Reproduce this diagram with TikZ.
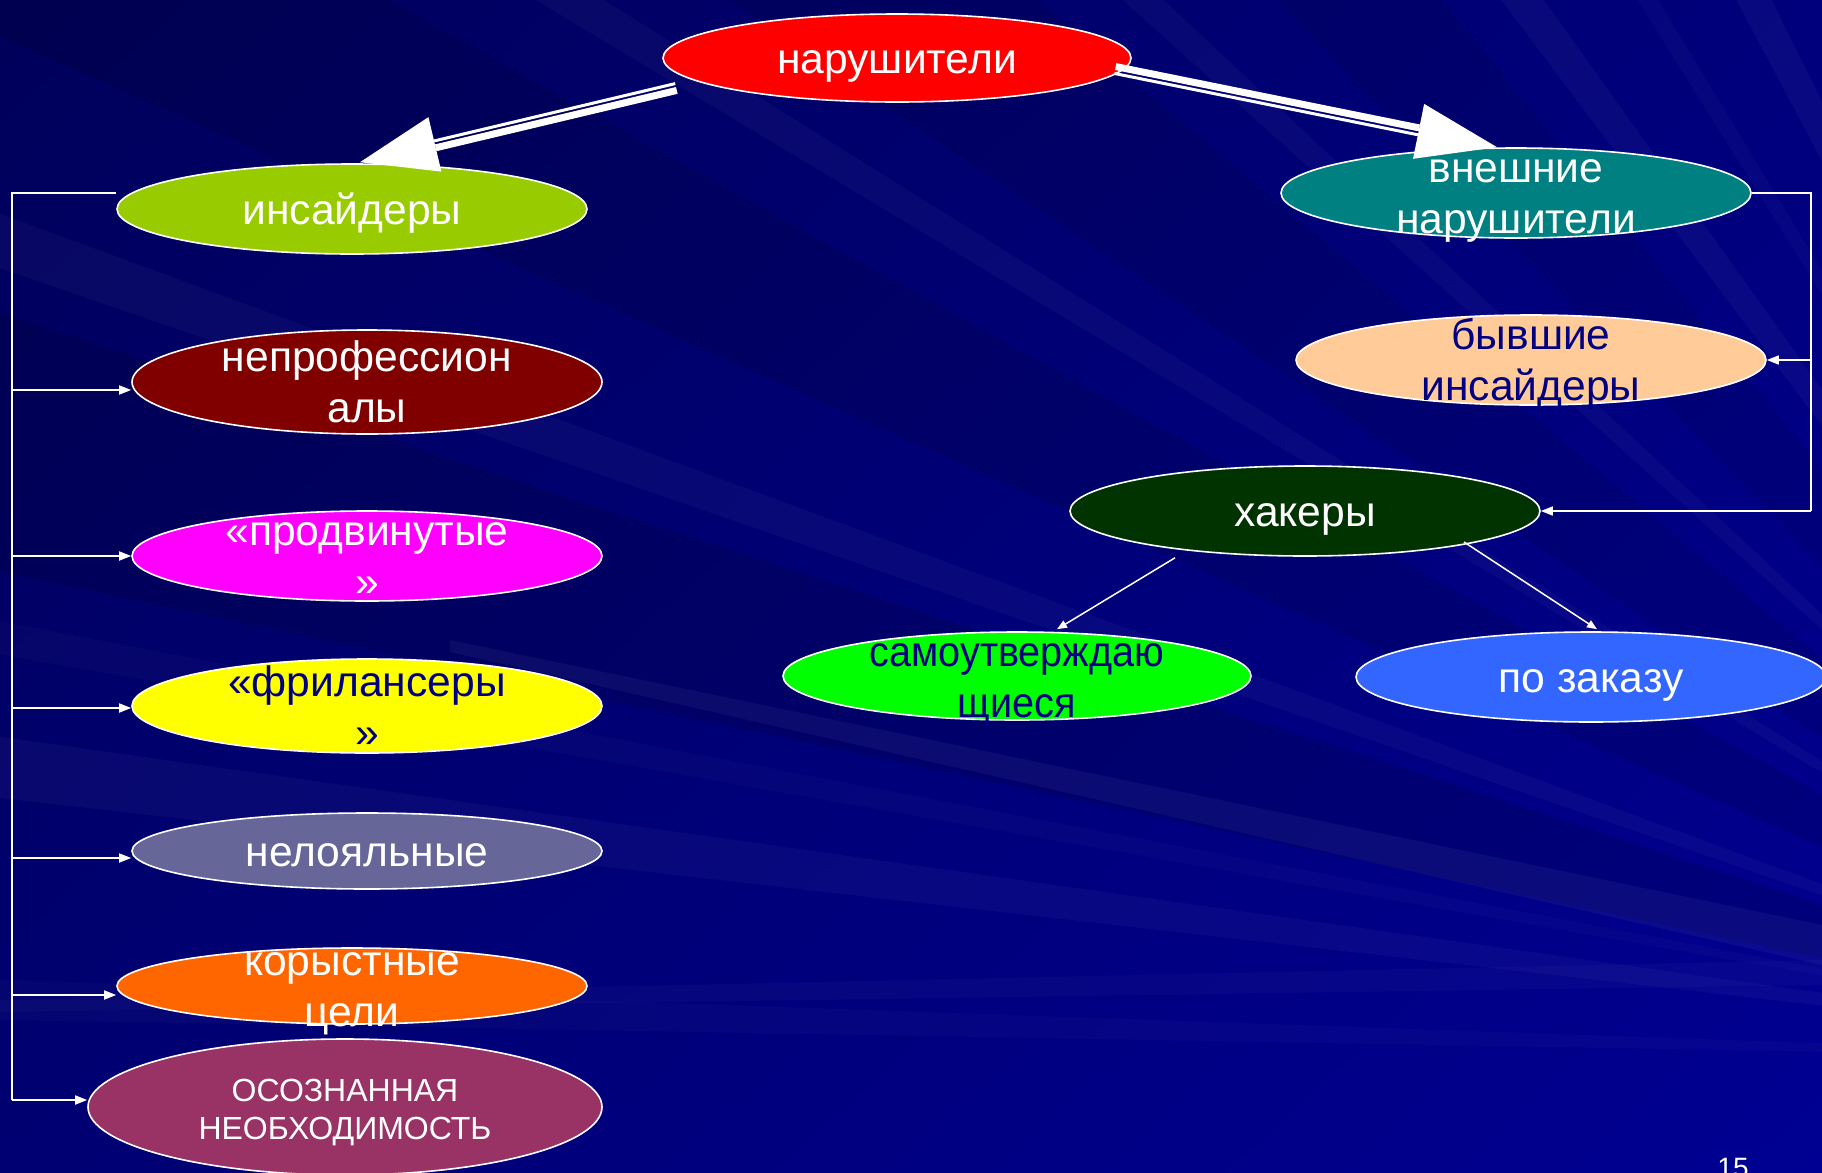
\documentclass[tikz,border=0pt]{standalone}
\usepackage{fontspec}
\setmainfont{Liberation Sans}
\usetikzlibrary{shapes.geometric,calc,arrows.meta,shadings}

\definecolor{navytext}{HTML}{000080}
\definecolor{cRed}{HTML}{FF0000}
\definecolor{cLime}{HTML}{99CC00}
\definecolor{cTeal}{HTML}{008080}
\definecolor{cMaroon}{HTML}{800000}
\definecolor{cPeach}{HTML}{FFCC99}
\definecolor{cForest}{HTML}{003300}
\definecolor{cMagenta}{HTML}{FF00FF}
\definecolor{cGreen}{HTML}{00FF00}
\definecolor{cBlue}{HTML}{3366FF}
\definecolor{cYellow}{HTML}{FFFF00}
\definecolor{cSlate}{HTML}{666699}
\definecolor{cOrange}{HTML}{FF6600}
\definecolor{cPlum}{HTML}{993366}
\definecolor{bgTL}{HTML}{00005A}
\definecolor{bgTR}{HTML}{00007C}
\definecolor{bgBL}{HTML}{000072}
\definecolor{bgBR}{HTML}{000092}

% struts that set the vertical placement of a label line
\newcommand\lblstrut{\rule[-4.5pt]{0pt}{24pt}}
\newcommand\capstrut{\rule[-3pt]{0pt}{17.4pt}}

\tikzset{
  oval/.style={ellipse, draw=white, line width=0.8pt, inner sep=0pt},
  txt/.style={align=center, inner sep=0pt, text=white,
              font=\fontsize{21.3}{25.5}\selectfont,
              execute at begin node=\lblstrut, execute at end node=\lblstrut},
  captxt/.style={txt, font=\fontsize{16}{19}\selectfont,
              execute at begin node=\capstrut, execute at end node=\capstrut},
  dark/.style={text=navytext},
  tree/.style={draw=white, line width=0.85pt},
  treearrow/.style={tree, -{Triangle[length=6pt,width=4.5pt]}},
  hackarrow/.style={draw=white, line width=0.75pt, -{Triangle[length=5pt,width=4pt]}},
  thinshaft/.style={draw=white, line width=1.5pt},
  thickshaft/.style={draw=white, line width=3.5pt},
}

\begin{document}
\begin{tikzpicture}[x=0.5pt,y=-0.5pt]
\useasboundingbox (0,0) rectangle (1822,1173);

% ---- background: navy with faint light rays ----
\begin{scope}
  \clip (0,0) rectangle (1822,1173);
  \shade[upper left=bgTL, upper right=bgTR, lower left=bgBL, lower right=bgBR]
    (0,0) rectangle (1822,1173);
  \coordinate (F) at (2300,1060);
  \foreach \a/\b/\o in {192/198/0.12, 204/209/0.10, 214/220/0.09, 226/231/0.08}
    \fill[black, opacity=\o] (F) -- ($(F)+(\a:4000)$) -- ($(F)+(\b:4000)$) -- cycle;
  \foreach \a/\b/\o in {181/182/0.02, 186.5/188/0.03, 190/190.8/0.02,
                        199/200.2/0.03, 211/212/0.03, 222/223/0.03, 233/234.5/0.035,
                        238/238.8/0.025, 242/243.5/0.035}
    \fill[white, opacity=\o] (F) -- ($(F)+(\a:4000)$) -- ($(F)+(\b:4000)$) -- cycle;
  \fill[white, opacity=0.045] (450,640) -- (1822,925) -- (1822,965) -- (450,652) -- cycle;
  \fill[white, opacity=0.025] (0,1000) -- (1822,960) -- (1822,985) -- (0,1012) -- cycle;
\end{scope}

% ---- ellipses ----
\node[oval, fill=cRed,     minimum width=234pt, minimum height=44pt] (nar)    at (897,58)   {};
\node[oval, fill=cLime,    minimum width=235pt, minimum height=45pt] (ins)    at (352,209)  {};
\node[oval, fill=cTeal,    minimum width=235pt, minimum height=45pt] (vn)     at (1516,193) {};
\node[oval, fill=cMaroon,  minimum width=235pt, minimum height=52pt] (neprof) at (367,382)  {};
\node[oval, fill=cPeach,   minimum width=235pt, minimum height=45pt] (byv)    at (1531,360) {};
\node[oval, fill=cForest,  minimum width=235pt, minimum height=45pt] (hak)    at (1305,511) {};
\node[oval, fill=cMagenta, minimum width=235pt, minimum height=45pt] (prod)   at (367,556)  {};
\node[oval, fill=cGreen,   minimum width=234pt, minimum height=44pt] (sam)    at (1017,676) {};
\node[oval, fill=cBlue,    minimum width=235pt, minimum height=45pt] (zak)    at (1591,677) {};
\node[oval, fill=cYellow,  minimum width=235pt, minimum height=47pt] (fril)   at (367,706)  {};
\node[oval, fill=cSlate,   minimum width=235pt, minimum height=38pt] (nelo)   at (367,851)  {};
\node[oval, fill=cOrange,  minimum width=235pt, minimum height=38pt] (kor)    at (352,986)  {};
\node[oval, fill=cPlum,    minimum width=257pt, minimum height=68pt] (osn)    at (345,1107) {};

% ---- left tree: insiders ----
\coordinate (lt-top) at (12,193);
\coordinate (neprof-in) at ($(neprof.west)+(0,8)$);
\coordinate (prod-in)   at (prod.west);
\coordinate (fril-in)   at ($(fril.west)+(0,2)$);
\coordinate (nelo-in)   at ($(nelo.west)+(0,7)$);
\coordinate (kor-in)    at ($(kor.west)+(0,9)$);
\coordinate (osn-in)    at ($(osn.west)+(0,-7)$);
\draw[tree] ($(ins.west)+(0,-16)$) -- (lt-top) -- (lt-top |- osn-in);
\foreach \n in {neprof,prod,fril,nelo,kor,osn}
  \draw[treearrow] (lt-top |- \n-in) -- (\n-in);

% ---- right tree: external intruders ----
\coordinate (rt-top) at (1811,193);
\draw[tree, line width=0.7pt] (vn.east) -- (rt-top) -- (rt-top |- hak.east);
\draw[treearrow, line width=0.7pt] (rt-top |- byv.east) -- (byv.east);
\draw[treearrow, line width=0.7pt] (rt-top |- hak.east) -- (hak.east);

% ---- hackers split ----
\draw[hackarrow] ($(hak.south)+(-130,1)$) -- ($(sam.north)+(40,-2)$);
\draw[hackarrow] ($(hak.center)+(159,31)$) -- ($(zak.north)+(6,-2)$);

% ---- big double-shaft arrows from the root ----
\coordinate (la-s) at ($(nar.center)+(-221,29)$);
\coordinate (la-t) at ($(ins.north)+(8,-1)$);
\coordinate (la-b) at ($(la-t)!38.5pt!(la-s)$);
\draw[thinshaft]  ($(la-s)!1.75pt!-90:(la-t)$) -- ($(la-b)!1.75pt!-90:(la-t)$);
\draw[thickshaft] ($(la-s)!1.75pt!90:(la-t)$)  -- ($(la-b)!1.75pt!90:(la-t)$);
\fill[white] (la-t) -- ($(la-b)!14pt!90:(la-t)$) -- ($(la-b)!14pt!-90:(la-t)$) -- cycle;

\coordinate (ra-s) at ($(nar.center)+(218,12)$);
\coordinate (ra-t) at ($(vn.north)+(-19,0)$);
\coordinate (ra-b) at ($(ra-t)!40pt!(ra-s)$);
\draw[thickshaft] ($(ra-s)!1.75pt!90:(ra-t)$)  -- ($(ra-b)!1.75pt!90:(ra-t)$);
\draw[thinshaft]  ($(ra-s)!1.75pt!-90:(ra-t)$) -- ($(ra-b)!1.75pt!-90:(ra-t)$);
\fill[white] (ra-t) -- ($(ra-b)!14pt!90:(ra-t)$) -- ($(ra-b)!14pt!-90:(ra-t)$) -- cycle;

% ---- labels ----
\node[txt] (nar-t)    at (nar)    {нарушители};
\node[txt] (ins-t)    at (ins)    {инсайдеры};
\node[txt, yshift=-4pt] (vn-t) at (vn) {внешние\\нарушители};
\node[txt, yshift=-2pt] (neprof-t) at (neprof) {непрофессион\\алы};
\node[txt, dark, yshift=-1.75pt] (byv-t) at (byv) {бывшие\\инсайдеры};
\node[txt] (hak-t)    at (hak)    {хакеры};
\node[txt, yshift=-4pt] (prod-t) at (prod) {«продвинутые\\»};
\node[txt, dark, yshift=-4.5pt, font=\fontsize{21.3}{25.5}\selectfont\addfontfeature{FakeStretch=0.93}]
      (sam-t) at (sam) {самоутверждаю\\щиеся};
\node[txt] (zak-t)    at (zak)    {по заказу};
\node[txt, dark, yshift=-2.5pt] (fril-t) at (fril) {«фрилансеры\\»};
\node[txt] (nelo-t)   at (nelo)   {нелояльные};
\node[txt, yshift=-4pt] (kor-t) at (kor) {корыстные\\цели};
\node[captxt, yshift=-3.5pt] (osn-t) at (osn) {ОСОЗНАННАЯ\\НЕОБХОДИМОСТЬ};

% ---- slide number ----
\node[anchor=north, inner sep=0pt, text=white, font=\fontsize{14}{16}\selectfont] (pg) at (1733,1158) {15};
\end{tikzpicture}
\end{document}
